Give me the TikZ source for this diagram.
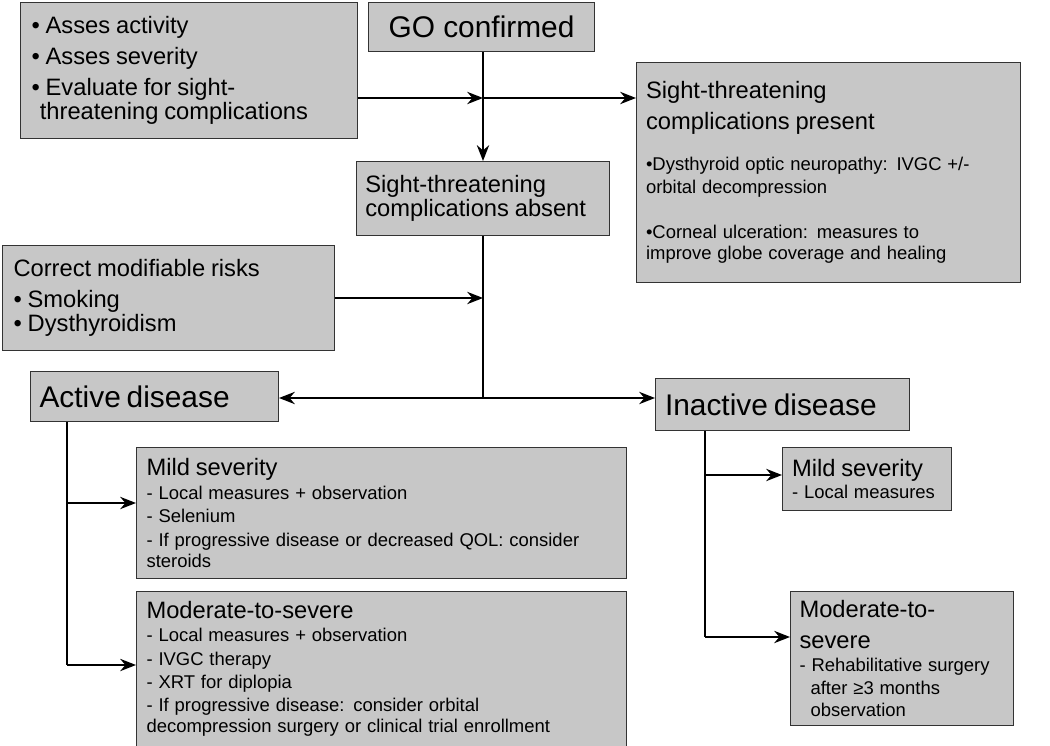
\documentclass[tikz,border=0pt]{standalone}
\usepackage{fontspec}
\setmainfont{Liberation Sans}
\usetikzlibrary{arrows.meta}
\newcommand{\bigtxt}{\fontsize{13.5}{17.5}\selectfont}
\newcommand{\hugetxt}{\fontsize{17}{20}\selectfont}
\newcommand{\smalltxt}{\fontsize{10.5}{13.3}\selectfont}
\begin{document}
\begin{tikzpicture}[
  x=0.02cm, y=-0.02cm,
  box/.style={rectangle, draw=black!80, fill=black!22, line width=0.6pt, anchor=north west, align=left, inner sep=5pt},
  link/.style={line width=1.1pt, -{Stealth[length=9pt,width=7pt]}},
  line/.style={line width=1.1pt},
]
\useasboundingbox (0,0) rectangle (1050,746);

%%% Nodes
\node[box, minimum width=6.74cm, minimum height=2.72cm, text width=6.3cm] (assess) at (20,2)
  {\bigtxt • Asses activity\\ • Asses severity\\ • Evaluate for sight-\\ \hspace*{0.35em}threatening complications};
\node[box, minimum width=4.52cm, minimum height=0.98cm, align=center] (go) at (368,2) {\hugetxt GO confirmed};
\node[box, minimum width=7.68cm, minimum height=4.4cm, text width=7.3cm] (present) at (636,62)
  {\bigtxt Sight-threatening\\ complications present\\[10pt]
   \smalltxt •Dysthyroid optic neuropathy: IVGC +/-\\ \smalltxt orbital decompression\\[12pt]
   \smalltxt •Corneal ulceration: measures to\\ \smalltxt improve globe coverage and healing};
\node[box, minimum width=5.04cm, minimum height=1.48cm, text width=4.7cm] (absent) at (356,161)
  {\bigtxt Sight-threatening\\ complications absent};
\node[box, minimum width=6.64cm, minimum height=2.1cm, text width=6.2cm] (risks) at (2,245)
  {\bigtxt Correct modifiable risks\\ • Smoking\\ • Dysthyroidism};
\node[box, minimum width=4.96cm, minimum height=1.0cm, text width=4.6cm] (active) at (30,371) {\hugetxt Active disease};
\node[box, minimum width=5.08cm, minimum height=1.04cm, text width=4.7cm] (inactive) at (655,378) {\hugetxt Inactive disease};
\node[box, minimum width=9.8cm, minimum height=2.62cm, text width=9.4cm] (amild) at (136,447)
  {\bigtxt Mild severity\\ \smalltxt - Local measures + observation\\ \smalltxt - Selenium\\
   \smalltxt - If progressive disease or decreased QOL: consider\\ \smalltxt steroids};
\node[box, minimum width=9.8cm, minimum height=3.1cm, text width=9.4cm] (amod) at (136,591)
  {\bigtxt Moderate-to-severe\\ \smalltxt - Local measures + observation\\ \smalltxt - IVGC therapy\\
   \smalltxt - XRT for diplopia\\ \smalltxt - If progressive disease: consider orbital\\
   \smalltxt decompression surgery or clinical trial enrollment};
\node[box, minimum width=3.38cm, minimum height=1.26cm, text width=3.0cm] (imild) at (782,447)
  {\bigtxt Mild severity\\ \smalltxt - Local measures};
\node[box, minimum width=4.46cm, minimum height=2.22cm, text width=4.1cm] (imod) at (790,591)
  {\bigtxt Moderate-to-severe\\ \smalltxt - Rehabilitative surgery\\ \smalltxt \hspace*{0.6em}after ≥3 months\\ \smalltxt \hspace*{0.6em}observation};

%%% Coordinates
\coordinate (j1) at (483,98);
\coordinate (j2) at (483,298);
\coordinate (j3) at (483,398);
\coordinate (a1) at (67,503);
\coordinate (a2) at (67,665);
\coordinate (i1) at (705,475);
\coordinate (i2) at (705,637);

%%% Connectors
\draw[link] (go.south -| j1) -- (absent.north -| j1);
\draw[link] (assess.east |- j1) -- (j1);
\draw[link] (j1) -- (present.west |- j1);
\draw[line] (absent.south -| j3) -- (j3);
\draw[link] (risks.east |- j2) -- (j2);
\draw[link] (j3) -- (active.east |- j3);
\draw[link] (j3) -- (inactive.west |- j3);
\draw[line] (active.south -| a2) -- (a2);
\draw[link] (a1) -- (amild.west |- a1);
\draw[link] (a2) -- (amod.west |- a2);
\draw[line] (inactive.south -| i2) -- (i2);
\draw[link] (i1) -- (imild.west |- i1);
\draw[link] (i2) -- (imod.west |- i2);

\end{tikzpicture}
\end{document}
